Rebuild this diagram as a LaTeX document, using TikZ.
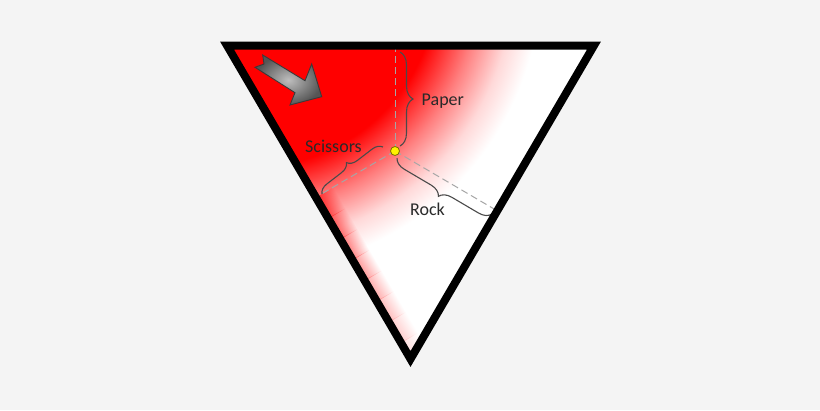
\documentclass[tikz,border=0pt]{standalone}
\usepackage{fontspec}
\setmainfont{Carlito}
\usetikzlibrary{decorations.pathreplacing,calc,fadings}
\definecolor{bg}{HTML}{F4F4F4}
\definecolor{txt}{HTML}{2A2A2A}
\definecolor{dashc}{HTML}{A6A6A6}
\definecolor{bracec}{HTML}{4A4A4A}
\definecolor{arrlight}{HTML}{BEBEBE}
\definecolor{arrdark}{HTML}{555555}
\definecolor{arrline}{HTML}{3A3A3A}
\definecolor{dotline}{HTML}{7A7000}
% main red gradient: radial, 25bp <-> 300px
\pgfdeclareradialshading{redrad}{\pgfpointorigin}{color(0bp)=(red); color(15.6bp)=(red); color(19.1bp)=(red!50); color(21.9bp)=(red!15); color(24.2bp)=(white); color(50bp)=(white)}
\tikzfading[name=bandA, left color=transparent!30, right color=transparent!100]
\tikzfading[name=bandB, left color=transparent!38, right color=transparent!100]
\tikzfading[name=bandC, left color=transparent!46, right color=transparent!100]
\tikzfading[name=bandD, left color=transparent!54, right color=transparent!100]
\tikzfading[name=bandE, left color=transparent!62, right color=transparent!100]
\tikzfading[name=bandF, left color=transparent!70, right color=transparent!100]
\tikzfading[name=bandG, left color=transparent!78, right color=transparent!100]
\tikzfading[name=bandH, left color=transparent!86, right color=transparent!100]
\begin{document}
\begin{tikzpicture}[x=1pt,y=-1pt,
  lbl/.style={font=\fontsize{18}{21}\selectfont, text=txt, inner sep=0pt},
  dashln/.style={draw=dashc, line width=1pt, dash pattern=on 7pt off 4pt},
  brc/.style={draw=bracec, line width=1.1pt, decorate, decoration={brace, amplitude=#1}},
  border/.style={draw=black, line width=8pt, line join=miter}]
\useasboundingbox[fill=bg] (0,0) rectangle (820,410);
\coordinate (A) at (227,45.5);
\coordinate (B) at (594,45.5);
\coordinate (C) at (410.5,359);
\coordinate (D) at (395,151);
% base fill
\fill[white] (A) -- (B) -- (C) -- cycle;
% red gradient
\begin{scope}
  \clip (A) -- (B) -- (C) -- cycle;
  \shade[shading=redrad] (-50,-320) rectangle (550,280);
  \begin{scope}[transform canvas={rotate=30.3}]
    \foreach \f [count=\i from 0] in {A,B,C,D,E,F,G,H} {
      \fill[red, path fading=band\f] (173,{330+24*\i}) rectangle (193,{354.5+24*\i});
    }
  \end{scope}
\end{scope}
% dashed lines to the sides
\coordinate (Ft) at (D |- A);
\coordinate (Fl) at ($(A)!(D)!(C)$);
\coordinate (Fr) at ($(B)!(D)!(C)$);
\draw[dashln] (D) -- (Ft);
\draw[dashln] (D) -- (Fl);
\draw[dashln] (D) -- (Fr);
% braces
\coordinate (p1) at (400,52);   \coordinate (p2) at (400,146);
\coordinate (s1) at (322,194);  \coordinate (s2) at (383,147);
\coordinate (r1) at (492,214);  \coordinate (r2) at (397,158);
\draw[brc=13] (p1) -- (p2);
\draw[brc=10] (s1) -- (s2);
\draw[brc=12] (r1) -- (r2);
% labels
\node[lbl, anchor=base west] (paper) at (421.5,105.5) {Paper};
\node[lbl, anchor=base west] (sci) at (305,152.5) {Scissors};
\node[lbl, anchor=base west] (rock) at (410,215) {Rock};
% grey arrow
\shade[draw=arrline, line width=0.9pt, inner color=arrlight, outer color=arrdark]
  (262.7,55) -- (305,80.7) -- (311.7,64) -- (321.7,96.7) -- (290,105) -- (295,92.7)
  -- (255,67.3) -- (264,64) -- cycle;
% centre dot
\node[circle, fill=yellow, draw=dotline, line width=0.8pt, minimum size=9pt, inner sep=0pt] (dot) at (D) {};
% border
\draw[border] (A) -- (B) -- (C) -- cycle;
\end{tikzpicture}
\end{document}
